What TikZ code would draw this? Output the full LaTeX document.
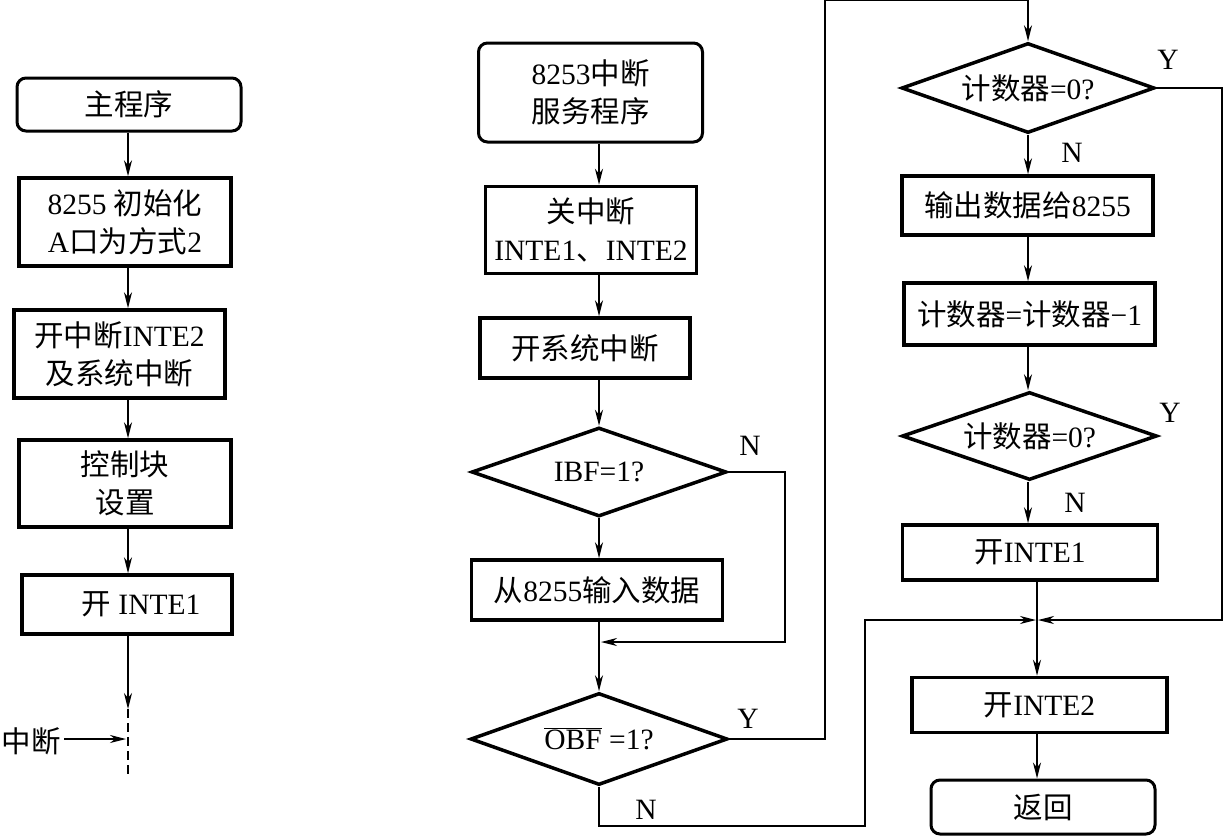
\documentclass[tikz,border=0pt]{standalone}
\usepackage{fontspec}
\setmainfont{Liberation Serif}
\newfontfamily\cjk{Noto Sans CJK SC}
\newcommand\zh[1]{{\cjk #1}}
\usetikzlibrary{shapes.geometric,arrows.meta}
\begin{document}
\begin{tikzpicture}[x=1pt,y=-1pt,
  font=\fontsize{29.5}{38}\selectfont,
  box/.style={draw, line width=3.5pt, inner sep=0pt, align=center},
  rbox/.style={box, line width=3pt, rounded corners=9pt},
  dia/.style={draw, diamond, line width=3.5pt, inner sep=0pt, aspect=2.8},
  conn/.style={line width=1.6pt},
  arr/.style={conn, -{Stealth[length=16pt,width=8pt,inset=5pt]}},
  lab/.style={inner sep=0pt}]
\useasboundingbox (0,0) rectangle (1225,836);

% ---------- left column ----------
\node[rbox, minimum width=224pt, minimum height=53pt] (main) at (129,104.5) {\zh{主程序}};
\node[box, minimum width=212pt, minimum height=88pt] (init) at (125,222) {8255 \zh{初始化}\\A\zh{口为方式}2};
\node[box, minimum width=211pt, minimum height=88pt] (inte2L) at (119.5,354) {\zh{开中断}INTE2\\\zh{及系统中断}};
\node[box, minimum width=212pt, minimum height=87pt] (ctrl) at (125,483.5) {\zh{控制块}\\\zh{设置}};
\node[box, minimum width=210pt, minimum height=59pt] (inte1L) at (127,604.5) {\hspace*{28pt}\zh{开} INTE1};
\coordinate (lx) at (128,0);
\coordinate (ltip) at (128,709);
\coordinate (lend) at (128,775);
\coordinate (hit) at (126,739);
\node[lab, anchor=east] (zd) at (61,741) {\zh{中断}};

\draw[arr] (main.south -| lx) -- (init.north -| lx);
\draw[arr] (init.south -| lx) -- (inte2L.north -| lx);
\draw[arr] (inte2L.south -| lx) -- (ctrl.north -| lx);
\draw[arr] (ctrl.south -| lx) -- (inte1L.north -| lx);
\draw[arr] (inte1L.south -| lx) -- (ltip);
\draw[conn, dash pattern=on 9pt off 5pt] (ltip) -- (lend);
\draw[arr] (zd.east) ++(3,-2) coordinate (zs) (zs) -- (hit);

% ---------- middle column ----------
\node[rbox, minimum width=224pt, minimum height=99pt] (isr) at (590.5,92.5) {8253\zh{中断}\\\zh{服务程序}};
\node[box, minimum width=211pt, minimum height=87pt] (close) at (591,230) {\zh{关中断}\\INTE1\zh{、}INTE2};
\node[box, minimum width=210pt, minimum height=60pt] (opensys) at (585,348) {\zh{开系统中断}};
\node[dia, minimum width=255pt, minimum height=89pt] (ibf) at (599,472) {IBF=1?};
\node[box, minimum width=251pt, minimum height=60pt] (input) at (597,590) {\zh{从}8255\zh{输入数据}};
\node[dia, minimum width=257pt, minimum height=92pt] (obf) at (599,739) {$\overline{\hbox{OBF}}$ =1?};
\coordinate (mx) at (599,0);
\coordinate (m1) at (785,472);
\coordinate (m2) at (785,642);
\coordinate (m3) at (601,642);
\coordinate (y1) at (825,739);
\coordinate (y2) at (825,0);
\coordinate (y3) at (1028,0);
\coordinate (n1) at (599,826);
\coordinate (n2) at (865,826);
\coordinate (n3) at (865,620);
\coordinate (jl) at (1036,620);

\draw[arr] (isr.south -| mx) -- (close.north -| mx);
\draw[arr] (close.south -| mx) -- (opensys.north -| mx);
\draw[arr] (opensys.south -| mx) -- (ibf.north);
\draw[arr] (ibf.south) -- (input.north -| mx);
\draw[arr] (input.south -| mx) -- (obf.north);
\draw[arr] (ibf.east) -- (m1) -- (m2) -- (m3);
\node[lab] (lN1) at (750,446) {N};
\draw[conn] (obf.east) -- (y1) -- (y2) -- (y3);
\node[lab] (lY1) at (748,719) {Y};
\draw[arr] (obf.south) -- (n1) -- (n2) -- (n3) -- (jl);
\node[lab] (lN2) at (646,810) {N};

% ---------- right column ----------
\node[dia, minimum width=253pt, minimum height=90pt] (d1) at (1028,88) {\zh{计数器}=0?};
\node[box, minimum width=251pt, minimum height=59pt] (out) at (1027.5,205.5) {\zh{输出数据给}8255};
\node[box, minimum width=251pt, minimum height=62pt] (dec) at (1029.5,314) {\zh{计数器}=\zh{计数器}−1};
\node[dia, minimum width=255pt, minimum height=88pt] (d2) at (1029.5,436) {\zh{计数器}=0?};
\node[box, minimum width=255pt, minimum height=55pt] (inte1R) at (1030,552.5) {\zh{开}INTE1};
\node[box, minimum width=255pt, minimum height=55pt] (inte2R) at (1039.5,705) {\zh{开}INTE2};
\node[rbox, minimum width=224pt, minimum height=54pt] (ret) at (1043,807) {\zh{返回}};
\coordinate (rx) at (1028,0);
\coordinate (qx) at (1037,0);
\coordinate (r1) at (1222,88);
\coordinate (r2) at (1222,620);
\coordinate (jr) at (1038,620);
\coordinate (jc) at (1037,620);

\draw[arr] (y3) -- (d1.north);
\node[lab] (lY2) at (1168,60) {Y};
\draw[arr] (d1.east) -- (r1) -- (r2) -- (jr);
\draw[arr] (d1.south -| rx) -- (out.north -| rx);
\node[lab] (lN3) at (1072,153) {N};
\draw[arr] (out.south -| rx) -- (dec.north -| rx);
\draw[arr] (dec.south -| rx) -- (d2.north -| rx);
\node[lab] (lY3) at (1170,413) {Y};
\draw[arr] (d2.south -| rx) -- (inte1R.north -| rx);
\node[lab] (lN4) at (1075,503) {N};
\draw[arr] (inte1R.south -| qx) -- (jc) -- (inte2R.north -| qx);
\draw[arr] (inte2R.south -| qx) -- (ret.north -| qx);
\end{tikzpicture}
\end{document}
